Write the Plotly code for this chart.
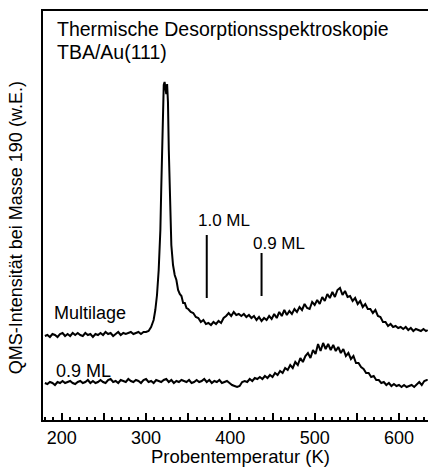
import plotly.graph_objects as go

# Probentemperatur (K) und QMS-Signal (w.E.) der Multilage
temp_multi = [180, 183, 186, 189, 192, 195, 198, 201, 204, 207, 210, 213, 216, 219, 222, 225,
              228, 231, 234, 237, 240, 243, 246, 249, 252, 255, 258, 261, 264, 267, 270, 273,
              276, 279, 282, 285, 288, 291, 294, 297, 300, 303, 306, 309, 311, 313, 315, 317,
              318, 319, 320, 321, 322, 323, 324, 325, 326, 327, 328, 329, 330, 332, 334, 336,
              338, 340, 342, 344, 346, 348, 350, 353, 356, 359, 362, 365, 368, 371, 374, 377,
              380, 383, 386, 389, 392, 395, 398, 401, 404, 407, 410, 413, 416, 419, 422, 425,
              428, 431, 434, 437, 440, 443, 446, 449, 452, 455, 458, 461, 464, 467, 470, 473,
              476, 479, 482, 485, 488, 491, 494, 497, 500, 503, 506, 509, 512, 515, 518, 521,
              524, 527, 530, 533, 536, 539, 542, 545, 548, 551, 554, 557, 560, 563, 566, 569,
              572, 575, 578, 581, 584, 587, 590, 593, 596, 599, 602, 605, 608, 611, 614, 617,
              620, 623, 626, 629, 632, 634]
sig_multi = [84, 85, 83, 86, 85, 83, 86, 87, 84, 86, 84, 87, 85, 87, 85, 84,
             87, 85, 86, 83, 86, 85, 87, 85, 88, 86, 87, 84, 86, 88, 85, 87,
             86, 87, 88, 86, 87, 88, 86, 88, 88, 89, 93, 100, 110, 125, 150, 190,
             230, 275, 315, 335, 338, 332, 326, 336, 318, 270, 225, 195, 175, 155, 145, 140,
             130, 126, 124, 117, 117, 112, 111, 108, 107, 103, 102, 98, 100, 96, 97, 95,
             98, 96, 99, 97, 102, 104, 107, 104, 108, 105, 106, 104, 106, 103, 105, 102,
             104, 100, 103, 99, 102, 100, 104, 101, 106, 102, 108, 104, 110, 105, 109, 106,
             111, 108, 113, 110, 116, 112, 111, 118, 115, 120, 116, 123, 119, 126, 122, 128,
             123, 130, 132, 125, 129, 123, 124, 119, 122, 116, 119, 113, 116, 111, 111, 107,
             110, 104, 103, 98, 98, 94, 96, 93, 94, 92, 93, 91, 93, 90, 92, 89,
             91, 90, 89, 91, 89, 90]

# 0.9 ML Bedeckung
temp_sub = [180, 183, 186, 189, 192, 195, 198, 201, 204, 207, 210, 213, 216, 219, 222, 225,
            228, 231, 234, 237, 240, 243, 246, 249, 252, 255, 258, 261, 264, 267, 270, 273,
            276, 279, 282, 285, 288, 291, 294, 297, 300, 303, 306, 309, 312, 315, 318, 321,
            324, 327, 330, 333, 336, 339, 342, 345, 348, 351, 354, 357, 360, 363, 366, 369,
            372, 375, 378, 381, 384, 387, 390, 393, 396, 399, 402, 405, 408, 411, 414, 417,
            420, 423, 426, 429, 432, 435, 438, 441, 444, 447, 450, 453, 456, 459, 462, 465,
            468, 471, 474, 477, 480, 483, 486, 489, 492, 495, 498, 501, 504, 507, 510, 513,
            516, 519, 522, 525, 528, 531, 534, 537, 540, 543, 546, 549, 552, 555, 558, 561,
            564, 567, 570, 573, 576, 579, 582, 585, 588, 591, 594, 597, 600, 603, 606, 609,
            612, 615, 618, 621, 624, 627, 630, 633, 634]
sig_sub = [37, 36, 38, 37, 35, 38, 37, 39, 37, 38, 39, 37, 36, 38, 39, 37,
           38, 40, 37, 39, 37, 38, 40, 38, 37, 40, 41, 38, 39, 37, 40, 39,
           38, 41, 39, 38, 40, 39, 37, 40, 41, 38, 39, 37, 40, 39, 38, 40,
           41, 38, 40, 37, 39, 38, 40, 39, 38, 40, 37, 38, 40, 38, 39, 41,
           38, 40, 37, 39, 38, 40, 37, 38, 39, 37, 35, 34, 33, 34, 38, 39,
           38, 41, 39, 42, 41, 43, 41, 44, 42, 45, 43, 47, 45, 49, 47, 52,
           50, 55, 52, 58, 55, 62, 58, 64, 67, 62, 70, 66, 76, 69, 77, 71,
           76, 70, 75, 69, 73, 67, 71, 64, 67, 61, 64, 57, 57, 53, 51, 47,
           47, 43, 44, 40, 40, 37, 38, 35, 37, 34, 36, 34, 35, 33, 35, 33,
           34, 35, 33, 36, 38, 35, 39, 40, 40]

# Bedeckungsmarken: Temperatur, Beschriftung, Linienunter-/-oberkante, Textlage (w.E.)
mark_temp = [372, 437]
mark_text = ["1.0 ML", "0.9 ML"]
mark_low = [122, 124]
mark_high = [185, 167]
mark_label_y = [200, 177]

tick_vals = [200, 250, 300, 350, 400, 450, 500, 550, 600]
tick_text = ["200", "", "300", "", "400", "", "500", "", "600"]

FONT = "Liberation Sans, Arial, sans-serif"

fig = go.Figure()
for t, s in [(temp_multi, sig_multi), (temp_sub, sig_sub)]:
    fig.add_trace(go.Scatter(x=t, y=s, mode="lines",
                             line=dict(color="black", width=2), showlegend=False,
                             hoverinfo="skip"))

for t, lo, hi, txt, ly in zip(mark_temp, mark_low, mark_high, mark_text, mark_label_y):
    fig.add_shape(type="line", xref="x", yref="y", x0=t, x1=t, y0=lo, y1=hi,
                  line=dict(color="black", width=2))
    fig.add_annotation(x=t, y=ly, xref="x", yref="y", text=txt, showarrow=False,
                       xanchor="left", yanchor="middle", xshift=-11,
                       font=dict(family=FONT, size=17, color="black"))

def note(text, x, y, size=18, **kw):
    fig.add_annotation(x=x, y=y, xref="paper", yref="paper", text=text, showarrow=False,
                       font=dict(family=FONT, size=size, color="black"), **kw)

note("Thermische Desorptionsspektroskopie", 0.031, 0.955, size=19.5, xanchor="left", yanchor="middle")
note("TBA/Au(111)", 0.031, 0.899, size=19.5, xanchor="left", yanchor="middle")
note("Multilage", 0.024, 0.262, xanchor="left", yanchor="middle")
note("0.9 ML", 0.029, 0.119, xanchor="left", yanchor="middle")
note("QMS-Intensität bei Masse 190 (w.E.)", -0.070, 0.469, size=18, textangle=-90,
     xanchor="center", yanchor="middle")
note("Probentemperatur (K)", 0.512, -0.090, size=18.5, xanchor="center", yanchor="middle")

fig.update_layout(
    width=428, height=471,
    margin=dict(l=43, r=0, t=11, b=51),
    paper_bgcolor="white", plot_bgcolor="white",
    font=dict(family=FONT, size=18, color="black"),
    xaxis=dict(range=[177.8, 634.4], showgrid=False, zeroline=False,
               showline=True, linecolor="black", linewidth=2, mirror=True,
               ticks="inside", ticklen=7, tickwidth=1.5, tickcolor="black",
               tickvals=tick_vals, ticktext=tick_text,
               tickfont=dict(family=FONT, size=18, color="black"),
               minor=dict(dtick=10, ticks="inside", ticklen=3.5, tickwidth=1.5,
                          tickcolor="black", showgrid=False)),
    yaxis=dict(range=[0, 409], showgrid=False, zeroline=False,
               showline=True, linecolor="black", linewidth=2,
               ticks="", showticklabels=False),
)

fig.write_html("out.html")
